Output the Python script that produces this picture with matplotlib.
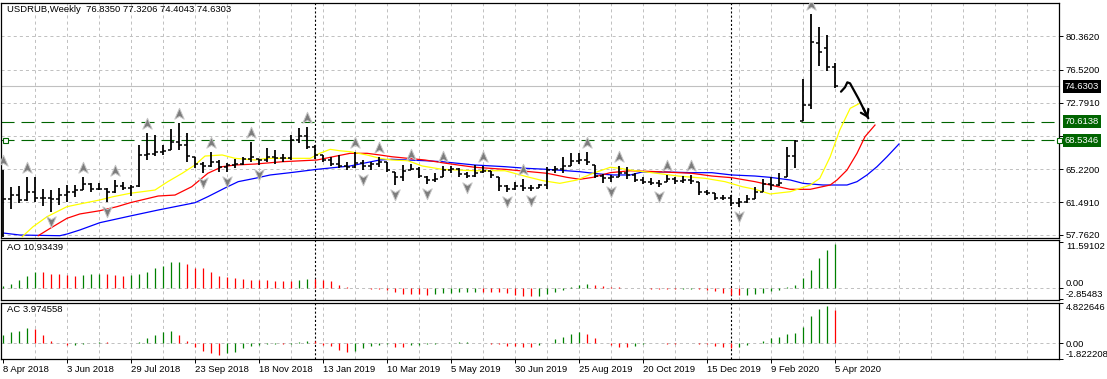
import matplotlib
matplotlib.use('Agg')
import matplotlib.pyplot as plt
import numpy as np
from matplotlib.path import Path
from matplotlib import transforms

plt.rcParams['font.family'] = ['Liberation Sans', 'DejaVu Sans']
plt.rcParams['lines.scale_dashes'] = False
FS = 6.8

# ---------------- data ----------------
title = 'USDRUB,Weekly  76.8350 77.3206 74.4043 74.6303'
ao_title = 'AO 10.93439'
ac_title = 'AC 3.974558'

date_labels = ['8 Apr 2018', '3 Jun 2018', '29 Jul 2018', '23 Sep 2018', '18 Nov 2018',
               '13 Jan 2019', '10 Mar 2019', '5 May 2019', '30 Jun 2019', '25 Aug 2019',
               '20 Oct 2019', '15 Dec 2019', '9 Feb 2020', '5 Apr 2020']
date_label_bars = [0, 8, 16, 24, 32, 40, 48, 56, 64, 72, 80, 88, 96, 104]
year_separator_bars = [39, 91]

price_ticks = [57.7620, 61.4910, 65.2200, 68.9490, 72.7910, 76.5200, 80.3620]
price_tick_labels = ['57.7620', '61.4910', '65.2200', '', '72.7910', '76.5200', '80.3620']
bid_price = 74.6303
hlines_levels = [70.6138, 68.5346]

bar_open = [57.8, 61.9, 62.3, 61.7, 62.6, 62.0, 62.0, 61.9, 62.3, 62.6,
            62.9, 63.5, 63.0, 62.95, 62.6, 63.3, 63.1, 63.3, 66.9, 67.0,
            67.2, 67.4, 68.3, 68.0, 66.6, 65.8, 65.6, 66.1, 65.5, 65.7,
            65.8, 66.4, 66.4, 66.3, 66.6, 66.5, 66.5, 68.5, 69.0, 67.7,
            66.8, 66.3, 65.8, 65.6, 65.5, 65.9, 65.6, 65.8, 66.0, 64.9,
            64.3, 65.1, 65.3, 64.4, 64.0, 64.3, 65.2, 65.3, 64.7, 64.5,
            64.9, 65.0, 64.3, 63.3, 63.0, 63.3, 63.1, 63.1, 63.4, 65.2,
            65.3, 65.6, 66.2, 66.3, 65.7, 64.5, 64.2, 64.4, 64.8, 64.6,
            64.0, 63.8, 63.7, 63.8, 64.1, 63.9, 64.0, 63.8, 62.6, 62.5,
            62.0, 62.0, 61.4, 61.5, 61.9, 62.7, 63.6, 63.4, 64.4, 66.7,
            70.75, 72.5, 79.6, 79.0, 76.835]
bar_high = [65.1, 63.2, 63.3, 64.4, 64.3, 62.95, 62.9, 63.1, 63.45, 63.45,
            64.4, 63.65, 63.65, 63.1, 64.0, 63.8, 63.45, 68.0, 69.3, 69.1,
            68.0, 69.75, 70.45, 69.3, 66.65, 66.1, 67.2, 66.3, 65.9, 66.45,
            66.65, 68.35, 66.45, 67.6, 67.4, 67.0, 69.1, 69.9, 70.0, 68.0,
            66.85, 66.65, 66.85, 66.1, 67.2, 66.3, 66.1, 66.65, 66.1, 64.9,
            65.7, 65.8, 65.5, 64.45, 64.75, 65.6, 65.6, 65.35, 64.95, 65.7,
            65.6, 65.05, 64.3, 63.45, 63.8, 64.1, 63.45, 63.6, 65.45, 65.6,
            66.65, 67.1, 67.1, 67.2, 65.7, 64.7, 64.6, 65.6, 65.45, 64.75,
            64.3, 64.2, 64.0, 64.6, 64.3, 64.45, 64.6, 63.8, 62.85, 62.5,
            62.3, 62.3, 61.95, 62.3, 63.25, 64.15, 64.4, 64.8, 67.8, 68.55,
            75.5, 82.85, 81.35, 80.5, 77.3206]
bar_low = [57.5, 60.7, 61.4, 61.6, 61.55, 61.0, 60.4, 61.2, 61.55, 62.1,
           62.85, 62.7, 62.85, 61.55, 62.5, 62.85, 62.2, 63.25, 66.3, 66.7,
           66.85, 67.4, 67.4, 66.1, 65.35, 64.85, 65.5, 64.95, 64.95, 65.35,
           65.7, 66.1, 65.7, 66.1, 65.8, 66.1, 66.3, 68.2, 67.5, 66.45,
           66.1, 65.6, 65.35, 65.2, 65.35, 65.15, 65.2, 65.5, 64.95, 63.45,
           63.95, 65.1, 64.2, 63.6, 63.8, 64.3, 64.85, 64.4, 64.2, 64.3,
           64.85, 64.2, 62.8, 62.7, 62.85, 62.75, 62.75, 63.05, 62.95, 64.85,
           64.75, 65.6, 65.8, 65.7, 64.2, 63.7, 63.8, 64.4, 64.1, 63.8,
           63.55, 63.45, 63.2, 63.8, 63.6, 63.7, 63.6, 62.3, 62.3, 61.75,
           61.75, 61.0, 60.9, 61.35, 61.9, 62.6, 62.85, 63.3, 64.4, 65.35,
           70.75, 72.05, 76.9, 76.4, 74.4043]
bar_close = [61.9, 62.3, 61.7, 62.6, 62.0, 62.0, 61.9, 62.3, 62.6, 62.9,
             63.5, 63.0, 62.95, 62.6, 63.3, 63.1, 63.2, 66.9, 67.0, 67.2,
             67.3, 68.3, 68.0, 66.7, 65.8, 65.6, 66.1, 65.5, 65.7, 65.8,
             66.4, 66.6, 66.3, 66.6, 66.5, 66.5, 68.5, 69.0, 67.7, 66.8,
             66.3, 65.8, 65.6, 65.5, 65.9, 65.6, 65.8, 66.0, 65.2, 64.3,
             65.0, 65.3, 64.5, 64.0, 64.1, 65.2, 65.3, 64.7, 64.5, 64.8,
             65.0, 64.6, 63.3, 63.0, 63.3, 63.1, 63.1, 63.4, 65.2, 65.3,
             65.6, 66.2, 66.3, 66.1, 64.5, 64.2, 64.4, 64.8, 64.6, 64.0,
             63.8, 63.7, 63.5, 64.1, 63.9, 64.0, 63.9, 62.6, 62.5, 62.0,
             62.0, 61.4, 61.5, 61.9, 62.7, 63.6, 63.4, 63.7, 66.7, 68.4,
             72.5, 79.7, 78.5, 76.8, 74.6303]

fractal_up_bars = [0, 3, 10, 14, 18, 22, 26, 31, 38, 44, 47, 51, 55, 60, 65, 73, 77, 83, 86, 101]
fractal_down_bars = [6, 13, 25, 28, 32, 45, 49, 53, 58, 63, 66, 76, 82, 92]

# Alligator lines (bar position, price)
jaw_x = [0, 2.1, 7.1, 8, 9.6, 12.1, 15.9, 19.4, 24, 25.6, 27.75, 29.4, 31.5, 33.4, 35.9,
         39.25, 41.75, 43.4, 45, 47.1, 48.6, 50.6, 52.75, 54.9, 56.9, 59, 62.75, 65.5, 68,
         72.1, 74.6, 76.25, 78.4, 79.9, 82.75, 86.1, 88.6, 91.1, 94, 95.9, 98.4, 100, 102.5,
         105.5, 106.75, 108, 109.25, 110.5, 112]
jaw_y = [57.99, 57.76, 57.68, 57.87, 58.33, 59.16, 59.92, 60.6, 61.43, 62.11, 63.1, 63.82,
         64.2, 64.58, 64.84, 65.22, 65.45, 65.6, 65.9, 66.28, 66.36, 66.28, 66.2, 66.09, 65.9,
         65.71, 65.52, 65.33, 65.22, 64.95, 64.69, 64.58, 64.58, 64.92, 64.92, 64.84, 64.84,
         64.58, 64.46, 64.31, 64.01, 63.63, 63.44, 63.44, 63.82, 64.58, 65.52, 66.65, 68.1]
teeth_x = [4.4, 5.9, 8, 9.6, 12.1, 14.25, 15.9, 19.4, 21.5, 23.6, 25.6, 27.4, 29, 31.5, 35,
           39.25, 41.25, 43.4, 45.5, 47.1, 48.6, 50.6, 52.75, 54.9, 56.9, 59, 62.75, 64.6, 68,
           70.5, 72.1, 73.75, 75.9, 78.4, 81.9, 86.1, 88.6, 91.1, 94, 95.9, 98.4, 100.9, 103.4,
           104.25, 105.5, 106.75, 107.75, 109]
teeth_y = [57.68, 58.52, 59.66, 60.15, 60.52, 60.98, 61.43, 62.19, 62.3, 63.25, 64.77, 65.52,
           65.71, 65.82, 66.09, 66.28, 66.65, 67.04, 67.04, 66.85, 66.65, 66.47, 66.28, 65.97,
           65.71, 65.45, 65.22, 65.06, 64.77, 64.31, 64.09, 64.31, 64.84, 65.06, 64.95, 64.77,
           64.46, 64.27, 63.82, 63.44, 62.95, 62.95, 63.44, 64.01, 65.14, 67.04, 68.93, 70.25]
lips_x = [2.4, 3.75, 5.5, 8, 10, 12.1, 13.75, 15.9, 19, 20.6, 22.4, 24, 25.25, 27.4, 29, 31.5,
          33, 38.4, 39.6, 40.9, 42.1, 43.4, 45.5, 47.1, 48.6, 50.6, 52.4, 54.9, 56.9, 59, 62.75,
          65.5, 67.5, 69.6, 71.75, 73.75, 75.9, 77.1, 78.4, 81.1, 84.4, 87.75, 90.25, 92.4, 94,
          95.9, 98.4, 100.9, 102.1, 103.4, 104.6, 105.9, 107.1]
lips_y = [57.57, 58.7, 59.84, 60.98, 61.36, 61.74, 62.11, 62.5, 62.87, 63.82, 64.77, 65.71,
          66.73, 66.85, 66.47, 66.28, 66.47, 66.47, 67.04, 67.49, 67.33, 67.22, 66.85, 66.47,
          66.28, 66.2, 65.6, 65.22, 65.14, 65.06, 65.06, 64.38, 63.93, 63.63, 64.01, 64.77,
          65.45, 65.34, 65.14, 64.84, 64.46, 64.2, 63.82, 63.25, 62.95, 62.42, 62.68, 63.44,
          64.2, 66.65, 69.69, 72.15, 72.72]

ao_values = [0.4, 1.1, 2.1, 3.1, 4.0, 3.95, 3.6, 3.55, 3.2, 3.1,
             3.2, 3.4, 3.6, 3.4, 3.35, 3.1, 3.2, 3.4, 4.0, 4.9,
             5.5, 6.4, 6.6, 6.0, 5.0, 4.9, 4.0, 3.1, 2.7, 2.4,
             2.15, 2.1, 1.95, 1.9, 1.85, 1.7, 1.65, 2.0, 2.2, 2.15,
             2.1, 1.7, 0.85, 0.2, 0.1, 0.05, -0.15, -0.25, -0.4, -1.1,
             -1.4, -1.45, -1.5, -1.7, -1.4, -1.3, -1.25, -1.0, -0.95, -0.9,
             -0.95, -1.0, -1.1, -1.35, -1.7, -1.95, -2.1, -1.95, -1.5, -1.05,
             -0.5, 0.3, 0.85, 1.1, 0.85, 0.6, 0.35, 0.2, 0.05, 0.03,
             0.02, -0.15, -0.22, -0.25, -0.27, -0.25, -0.23, -0.28, -0.4, -0.85,
             -1.25, -1.7, -1.85, -1.7, -1.5, -1.25, -0.85, -0.4, 0.15, 0.7,
             2.5, 4.6, 7.4, 9.6, 10.93439]
ac_values = [1.0, 1.35, 1.5, 1.78, 1.75, 1.0, 0.3, 0.02, -0.2, -0.15,
             -0.05, 0.0, 0.15, 0.1, 0.05, 0.03, -0.02, 0.1, 0.6, 1.0,
             1.35, 1.45, 1.0, 0.3, -0.4, -0.95, -1.2, -1.35, -1.2, -1.0,
             -0.55, -0.33, -0.2, -0.12, -0.05, -0.08, -0.04, 0.12, 0.3, 0.25,
             -0.2, -0.33, -0.8, -1.0, -0.95, -0.6, -0.33, -0.2, -0.05, -0.4,
             -0.42, -0.2, -0.18, -0.1, -0.05, 0.0, 0.05, 0.1, 0.11, 0.08,
             0.06, -0.04, -0.12, -0.28, -0.32, -0.4, -0.42, -0.2, 0.0, 0.5,
             0.8, 1.15, 1.3, 1.15, 0.6, 0.0, -0.2, -0.4, -0.42, -0.3,
             -0.12, 0.0, -0.02, -0.05, -0.06, 0.0, 0.02, -0.03, -0.12, -0.28,
             -0.4, -0.55, -0.5, -0.2, 0.0, 0.3, 0.6, 0.8, 1.1, 1.18,
             2.0, 3.2, 4.1, 4.4, 3.974558]
ao_ticks = [11.59102, 0.0, -2.85483]
ac_ticks = [4.822646, 0.0, -1.822208]

# hand-drawn annotation arrow (bar position, price)
arrow_x = [104.75, 105.25, 105.54, 105.88, 106.29, 106.91, 107.54, 108.16]
arrow_y = [74.04, 74.54, 75.10, 74.99, 74.31, 73.29, 72.15, 71.02]

# ---------------- figure ----------------
W, H = 1107, 379
fig = plt.figure(figsize=(W / 100, H / 100), dpi=100)
fig.patch.set_facecolor('white')


def px_axes(x0, y0, x1, y1):
    return fig.add_axes([x0 / W, 1 - y1 / H, (x1 - x0) / W, (y1 - y0) / H])


XL = (-0.25, 132.0)
ax = px_axes(1, 3, 1059, 237.5)
ao = px_axes(1, 239.5, 1059, 300)
ac = px_axes(1, 302.5, 1059, 359)

GRID = '#c0c0c0'
grid_bars = np.arange(4, 133, 4)
for a in (ax, ao, ac):
    a.set_facecolor('white')
    a.set_xlim(XL)
    a.yaxis.tick_right()
    a.tick_params(axis='y', length=3, width=0.7, pad=2, labelsize=FS, colors='black')
    for s in a.spines.values():
        s.set_linewidth(0.9)
        s.set_color('black')
    for gb in grid_bars:
        a.axvline(gb, color=GRID, lw=0.7, ls=(0, (2.2, 2.2)), zorder=0)
    for sb in year_separator_bars:
        a.axvline(sb, color='black', lw=0.8, ls=(0, (1.5, 1.5)), zorder=1)

ax.set_xticks([])
ao.set_xticks([])

# ---- main panel ----
ax.set_ylim(57.478, 84.111)
ax.set_yticks(price_ticks)
ax.set_yticklabels(price_tick_labels)
for p in price_ticks:
    ax.axhline(p, color=GRID, lw=0.7, ls=(0, (2.2, 2.2)), zorder=0)
ax.axhline(bid_price, color='#c0c0c0', lw=0.8, zorder=1)
for lvl in hlines_levels:
    ax.axhline(lvl, color='#006400', lw=0.8, ls=(0, (9.4, 5.0)), zorder=2)

ax.plot(jaw_x, jaw_y, color='#0000ff', lw=0.9, zorder=3)
ax.plot(teeth_x, teeth_y, color='#ff0000', lw=0.9, zorder=3)
ax.plot(lips_x, lips_y, color='#ffff00', lw=0.9, zorder=3)

idx = np.arange(len(bar_close))
ax.vlines(idx, bar_low, bar_high, color='black', lw=1.3, zorder=4)
ax.hlines(bar_open, idx - 0.4, idx, color='black', lw=1.1, zorder=4)
ax.hlines(bar_close, idx, idx + 0.4, color='black', lw=1.1, zorder=4)

up_path = Path([(0, 1), (0.75, -0.75), (0, -0.3), (-0.75, -0.75), (0, 1)],
               [Path.MOVETO, Path.LINETO, Path.LINETO, Path.LINETO, Path.CLOSEPOLY])
down_path = Path([(0, -1), (0.75, 0.75), (0, 0.3), (-0.75, 0.75), (0, -1)],
                 [Path.MOVETO, Path.LINETO, Path.LINETO, Path.LINETO, Path.CLOSEPOLY])
FR_OFF = 1.02
ax.plot([b for b in fractal_up_bars], [bar_high[b] + FR_OFF for b in fractal_up_bars],
        ls='none', marker=up_path, ms=9, mfc='#7c7c7c', mec='#c4c4c4', mew=0.7, zorder=5)
ax.plot([b for b in fractal_down_bars], [bar_low[b] - FR_OFF for b in fractal_down_bars],
        ls='none', marker=down_path, ms=9, mfc='#7c7c7c', mec='#c4c4c4', mew=0.7, zorder=5)

# annotation arrow
ax.plot(arrow_x, arrow_y, color='black', lw=1.6, solid_capstyle='round', zorder=6)
ax.annotate('', xy=(arrow_x[-1], arrow_y[-1]), xytext=(arrow_x[-2], arrow_y[-2]),
            arrowprops=dict(arrowstyle='->,head_length=0.45,head_width=0.3', lw=1.6,
                            color='black', shrinkA=0, shrinkB=0), zorder=6)

# anchor squares of the selected line
ax.plot([0.25, 131.96], [hlines_levels[1]] * 2, ls='none', marker='s', ms=3.6, mfc='white',
        mec='#006400', mew=0.8, clip_on=False, zorder=7)

# price boxes on the right axis
bt = transforms.blended_transform_factory(ax.transAxes, ax.transData)
xbox = 1 + 5.5 / 1058
ax.text(xbox, bid_price, '%.4f' % bid_price, transform=bt, fontsize=FS, color='white',
        va='center', ha='left', clip_on=False, zorder=10,
        bbox=dict(boxstyle='square,pad=0.2', fc='black', ec='none'))
for lvl in hlines_levels:
    ax.text(xbox, lvl, '%.4f' % lvl, transform=bt, fontsize=FS, color='white',
            va='center', ha='left', clip_on=False, zorder=10,
            bbox=dict(boxstyle='square,pad=0.2', fc='#006400', ec='none'))

# ---- AO panel ----
ao.set_ylim(-3.0, 12.125)
ao_cols = ['#008000'] + ['#008000' if ao_values[i] > ao_values[i - 1] else '#ff0000'
                         for i in range(1, len(ao_values))]
ao.vlines(idx, 0, ao_values, colors=ao_cols, lw=0.9, zorder=3)
ao.axhline(0, color=GRID, lw=0.7, ls=(0, (2.2, 2.2)), zorder=1)
ao.set_yticks(ao_ticks)
ao.set_yticklabels(['11.59102', '0.00', '-2.85483'])
lbl = ao.get_yticklabels()
lbl[0].set_va('top')
lbl[1].set_va('bottom')
lbl[2].set_va('bottom')

# ---- AC panel ----
ac.set_ylim(-1.87, 4.86)
ac_cols = ['#008000'] + ['#008000' if ac_values[i] > ac_values[i - 1] else '#ff0000'
                         for i in range(1, len(ac_values))]
ac.vlines(idx, 0, ac_values, colors=ac_cols, lw=0.9, zorder=3)
ac.axhline(0, color=GRID, lw=0.7, ls=(0, (2.2, 2.2)), zorder=1)
ac.set_yticks(ac_ticks)
ac.set_yticklabels(['4.822646', '0.00', '-1.822208'])
lbl = ac.get_yticklabels()
lbl[0].set_va('top')
lbl[2].set_va('bottom')

ac.set_xticks(date_label_bars)
ac.set_xticklabels(date_labels, fontsize=FS, ha='left')
ac.tick_params(axis='x', length=3, width=0.7, pad=1.5)

# ---- titles ----
fig.text(7 / W, 1 - 10 / H, title, fontsize=FS, va='center', ha='left')
fig.text(7 / W, 1 - 248 / H, ao_title, fontsize=FS, va='center', ha='left')
fig.text(7 / W, 1 - 309 / H, ac_title, fontsize=FS, va='center', ha='left')

fig.savefig('out.png', dpi=100, facecolor='white')
